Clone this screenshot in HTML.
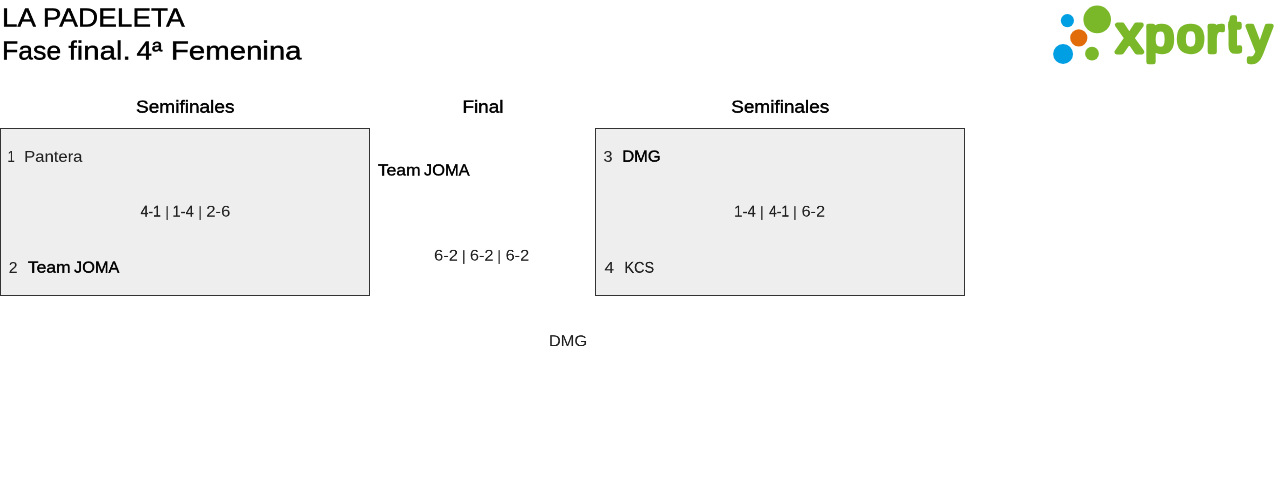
<!DOCTYPE html>
<html lang="es">
<head>
<meta charset="utf-8">
<title>LA PADELETA - Fase final. 4ª Femenina</title>
<style>
html,body{margin:0;padding:0;background:#fff;}
h1{margin:0;padding:0;font-size:inherit;font-weight:inherit;}
body{width:1280px;height:481px;position:relative;overflow:hidden;font-family:"Liberation Sans",sans-serif;color:#000;}
.w{will-change:transform;position:absolute;left:0;top:0;white-space:pre;transform-origin:0 0;display:block;font-weight:400;}

.box{position:absolute;box-sizing:border-box;border:1px solid #333;background:#eee;width:370px;height:168px;top:128px;}
#logo{position:absolute;left:1040px;top:0;}
</style>
</head>
<body>
<header>
<h1>
<span class="w" style="font-size:52px;line-height:52px;color:#000;transform:translate(1.99px,4.46px) scale(0.5333,0.5014);-webkit-text-stroke:0.90px #000;">LA</span>
<span class="w" style="font-size:52px;line-height:52px;color:#000;transform:translate(42.72px,4.46px) scale(0.5379,0.5014);-webkit-text-stroke:0.90px #000;">PADELETA</span>
<span class="w" style="font-size:52px;line-height:52px;color:#000;transform:translate(2.05px,37.46px) scale(0.5113,0.5014);-webkit-text-stroke:0.90px #000;">Fase</span>
<span class="w" style="font-size:52px;line-height:52px;color:#000;transform:translate(68.46px,37.46px) scale(0.5660,0.5014);-webkit-text-stroke:0.90px #000;">final.</span>
<span class="w" style="font-size:52px;line-height:52px;color:#000;transform:translate(136.66px,37.46px) scale(0.5292,0.5014);-webkit-text-stroke:0.90px #000;">4ª</span>
<span class="w" style="font-size:52px;line-height:52px;color:#000;transform:translate(170.90px,37.46px) scale(0.5650,0.5014);-webkit-text-stroke:0.90px #000;">Femenina</span>
</h1>
<svg id="logo" style="will-change:transform" width="240" height="75" viewBox="1040 0 240 75" role="img" aria-label="xporty">
<defs><clipPath id="tclip"><rect x="1228.2" y="0" width="40" height="75"/></clipPath></defs>
<circle cx="1067.4" cy="20.6" r="6.6" fill="#009fe3"/>
<circle cx="1097.2" cy="19.4" r="13.8" fill="#7ab829"/>
<circle cx="1078.8" cy="37.9" r="8.6" fill="#e36c0a"/>
<circle cx="1063.1" cy="54.05" r="10" fill="#009fe3"/>
<circle cx="1092" cy="53.7" r="6.9" fill="#7ab829"/>
<g font-family="'Liberation Sans', sans-serif" font-weight="normal" font-size="50.0" fill="#7ab829" stroke="#7ab829" stroke-width="4.6" stroke-linejoin="round" stroke-linecap="round">
<text transform="matrix(1.0491 0 0 1.0349 1116.22 51.52)">x</text>
<text transform="matrix(1.0338 0 0 0.9604 1145.25 51.53)">p</text>
<text transform="matrix(0.9784 0 0 0.9658 1176.90 51.71)">o</text>
<text transform="matrix(1.0175 0 0 0.9491 1206.46 51.72)">r</text>
<g clip-path="url(#tclip)"><text transform="matrix(0.9569 0 0 1.0184 1226.96 51.46)">t</text></g>
<text transform="matrix(0.9632 0 0 0.9591 1247.60 51.74)">y</text>
</g>
</svg>

</header>
<main>
<section class="round">
<div class="box" style="left:0;"></div>
<span class="w" style="font-size:34px;line-height:34px;color:#000;transform:translate(135.97px,97.40px) scale(0.5605,0.5283);-webkit-text-stroke:0.85px #000;">Semifinales</span>
<span class="w" style="font-size:32px;line-height:32px;color:#222;transform:translate(7.38px,148.46px) scale(0.4200,0.4977);-webkit-text-stroke:0.20px #222;">1</span>
<span class="w" style="font-size:32px;line-height:32px;color:#222;transform:translate(24.12px,148.46px) scale(0.5202,0.4977);-webkit-text-stroke:0.15px #222;">Pantera</span>
<span class="w" style="font-size:32px;line-height:32px;color:#222;transform:translate(140.53px,203.17px) scale(0.4414,0.4977);-webkit-text-stroke:0.56px #222;">4-1</span>
<span class="w" style="font-size:32px;line-height:32px;color:#333;transform:translate(165.06px,204.50px) scale(0.5000,0.4545);">|</span>
<span class="w" style="font-size:32px;line-height:32px;color:#222;transform:translate(172.41px,203.17px) scale(0.4618,0.4977);-webkit-text-stroke:0.41px #222;">1-4</span>
<span class="w" style="font-size:32px;line-height:32px;color:#333;transform:translate(198.06px,204.50px) scale(0.5000,0.4545);">|</span>
<span class="w" style="font-size:32px;line-height:32px;color:#222;transform:translate(206.29px,203.20px) scale(0.5186,0.4977);-webkit-text-stroke:0.15px #222;">2-6</span>
<span class="w" style="font-size:32px;line-height:32px;color:#222;transform:translate(8.74px,259.46px) scale(0.4889,0.4977);-webkit-text-stroke:0.23px #222;">2</span>
<span class="w" style="font-size:32px;line-height:32px;color:#000;transform:translate(27.85px,258.97px) scale(0.5469,0.5091);-webkit-text-stroke:0.79px #000;">Team</span>
<span class="w" style="font-size:32px;line-height:32px;color:#000;transform:translate(74.01px,258.97px) scale(0.5103,0.5091);-webkit-text-stroke:0.79px #000;">JOMA</span>
</section>
<section class="round">
<span class="w" style="font-size:34px;line-height:34px;color:#000;transform:translate(462.44px,97.40px) scale(0.5565,0.5283);-webkit-text-stroke:0.85px #000;">Final</span>
<span class="w" style="font-size:32px;line-height:32px;color:#000;transform:translate(377.80px,161.78px) scale(0.5476,0.5091);-webkit-text-stroke:0.79px #000;">Team</span>
<span class="w" style="font-size:32px;line-height:32px;color:#000;transform:translate(423.93px,161.78px) scale(0.5142,0.5091);-webkit-text-stroke:0.79px #000;">JOMA</span>
<span class="w" style="font-size:32px;line-height:32px;color:#222;transform:translate(434.03px,247.20px) scale(0.5165,0.4977);-webkit-text-stroke:0.15px #222;">6-2</span>
<span class="w" style="font-size:32px;line-height:32px;color:#333;transform:translate(461.76px,248.50px) scale(0.5000,0.4545);">|</span>
<span class="w" style="font-size:32px;line-height:32px;color:#222;transform:translate(469.87px,247.20px) scale(0.5100,0.4977);-webkit-text-stroke:0.15px #222;">6-2</span>
<span class="w" style="font-size:32px;line-height:32px;color:#333;transform:translate(497.04px,248.50px) scale(0.5000,0.4545);">|</span>
<span class="w" style="font-size:32px;line-height:32px;color:#222;transform:translate(505.61px,247.20px) scale(0.5088,0.4977);-webkit-text-stroke:0.15px #222;">6-2</span>
<span class="w" style="font-size:32px;line-height:32px;color:#222;transform:translate(548.87px,332.80px) scale(0.5126,0.4977);-webkit-text-stroke:0.15px #222;">DMG</span>
</section>
<section class="round">
<div class="box" style="left:595px;"></div>
<span class="w" style="font-size:34px;line-height:34px;color:#000;transform:translate(731.14px,97.40px) scale(0.5582,0.5283);-webkit-text-stroke:0.85px #000;">Semifinales</span>
<span class="w" style="font-size:32px;line-height:32px;color:#222;transform:translate(603.42px,148.46px) scale(0.5105,0.4977);-webkit-text-stroke:0.15px #222;">3</span>
<span class="w" style="font-size:32px;line-height:32px;color:#000;transform:translate(622.33px,147.97px) scale(0.5123,0.5091);-webkit-text-stroke:0.79px #000;">DMG</span>
<span class="w" style="font-size:32px;line-height:32px;color:#222;transform:translate(734.08px,203.17px) scale(0.4680,0.4977);-webkit-text-stroke:0.36px #222;">1-4</span>
<span class="w" style="font-size:32px;line-height:32px;color:#333;transform:translate(759.81px,204.50px) scale(0.5000,0.4545);">|</span>
<span class="w" style="font-size:32px;line-height:32px;color:#222;transform:translate(769.13px,203.17px) scale(0.4310,0.4977);-webkit-text-stroke:0.64px #222;">4-1</span>
<span class="w" style="font-size:32px;line-height:32px;color:#333;transform:translate(792.86px,204.50px) scale(0.5000,0.4545);">|</span>
<span class="w" style="font-size:32px;line-height:32px;color:#222;transform:translate(801.55px,203.20px) scale(0.5073,0.4977);-webkit-text-stroke:0.15px #222;">6-2</span>
<span class="w" style="font-size:32px;line-height:32px;color:#222;transform:translate(604.51px,259.46px) scale(0.5328,0.4977);-webkit-text-stroke:0.15px #222;">4</span>
<span class="w" style="font-size:32px;line-height:32px;color:#222;transform:translate(624.49px,259.33px) scale(0.4498,0.4977);-webkit-text-stroke:0.50px #222;">KCS</span>
</section>
</main>
</body>
</html>
